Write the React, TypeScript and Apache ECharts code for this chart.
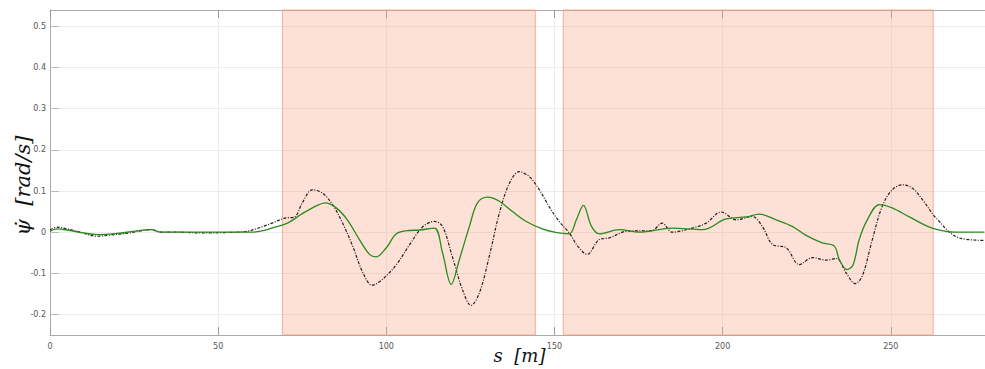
import React, { useEffect, useRef } from "react";
import * as echarts from "echarts";

// Yaw-rate along the path: reference (dash-dot) and measured (green)
const referenceYawRate: [number, number][] = [
  [0, 0.006], [2.2, 0.012], [5, 0.008], [9, 0.0], [13.8, -0.01], [18, -0.007],
  [23.6, -0.002], [27, 0.003], [30, 0.006], [33, 0.0], [38, 0.0], [45, -0.002],
  [52, -0.001], [58.4, 0.002], [62, 0.01], [66, 0.022], [69.7, 0.034], [72.7, 0.037],
  [75, 0.071], [78, 0.103], [81, 0.095], [84, 0.067], [87, 0.022], [90, -0.034],
  [93, -0.098], [95.8, -0.129], [98.8, -0.115], [103, -0.079], [106.8, -0.032],
  [110.7, 0.012], [114.3, 0.026], [116.7, 0.014], [119.6, -0.059], [122.6, -0.139],
  [125.2, -0.178], [127.7, -0.147], [130.6, -0.059], [133.6, 0.046], [136.6, 0.119],
  [139.5, 0.147], [142.5, 0.135], [145.5, 0.103], [148.4, 0.062], [151.4, 0.026],
  [154.4, -0.002], [157, -0.035], [159.7, -0.054], [163.3, -0.018], [166.3, -0.014],
  [171.3, 0.002], [179, 0.004], [182, 0.022], [185, 0.0], [191, 0.01], [195.1, 0.022],
  [199.6, 0.049], [204, 0.03], [208.8, 0.038], [211.8, 0.014], [214.8, -0.03],
  [218.9, -0.038], [222.8, -0.079], [226.7, -0.062], [230.8, -0.068], [233.8, -0.064],
  [236.7, -0.099], [239.4, -0.125], [241.5, -0.107], [244.5, -0.018], [247.4, 0.062],
  [250.4, 0.103], [253.4, 0.115], [256.4, 0.107], [259.4, 0.079], [263.5, 0.034],
  [270.3, -0.014], [277.8, -0.02],
];

const measuredYawRate: [number, number][] = [
  [0, 0.002], [2, 0.008], [6, 0.004], [10, -0.002], [14, -0.006], [20, -0.003],
  [25, 0.002], [30, 0.006], [33, 0.0], [40, 0.0], [50, 0.0], [60, 0.0], [63, 0.003],
  [66, 0.01], [70.6, 0.022], [75, 0.045], [79.2, 0.064], [81.8, 0.071], [85.1, 0.059],
  [88.4, 0.03], [92, -0.018], [95, -0.054], [97, -0.06], [100, -0.038], [103, -0.004],
  [106.8, 0.004], [109.8, 0.005], [114.3, 0.01], [116.7, -0.05], [119.3, -0.127],
  [121.7, -0.067], [124.7, 0.014], [127.1, 0.071], [130.1, 0.085], [133.6, 0.075],
  [137.5, 0.05], [141.6, 0.026], [146.4, 0.008], [150, 0.0], [154.4, -0.004],
  [156.5, 0.03], [158.6, 0.065], [161, 0.014], [163.3, -0.004], [169.3, 0.006],
  [175.2, 0.0], [185, 0.01], [194, 0.006], [201, 0.032], [207, 0.037], [210.9, 0.044],
  [215.9, 0.03], [220.7, 0.014], [224.8, -0.008], [229.6, -0.026], [233.2, -0.034],
  [234.7, -0.067], [237, -0.091], [238.8, -0.079], [240.6, -0.018], [243, 0.03],
  [246.6, 0.067], [250.4, 0.059], [255.5, 0.037], [262.3, 0.01], [269.4, 0.0],
  [277.8, 0.0],
];

// Shaded path segments [start, end] in metres
const shadedSegments: [number, number][] = [
  [69.1, 144.3],
  [152.6, 262.6],
];

const yTickValues = [-0.2, -0.1, 0, 0.1, 0.2, 0.3, 0.4, 0.5];

export default function App() {
  const ref = useRef<HTMLDivElement>(null);

  useEffect(() => {
    if (!ref.current) return;
    const chart = echarts.init(ref.current, null, { renderer: "svg" });
    const tickLabel = { color: "#555", fontSize: 8, fontFamily: "DejaVu Sans" };
    const axisLine = { show: true, onZero: false, lineStyle: { color: "#aaa", width: 1 } };
    const splitLine = { show: true, lineStyle: { color: "#ececec", width: 1 } };

    chart.setOption({
      animation: false,
      backgroundColor: "#fff",
      grid: { left: 50, right: 0, top: 10, bottom: 34, outerBoundsMode: "none", containLabel: false },
      xAxis: [
        {
          type: "value",
          min: 0,
          max: 278,
          interval: 50,
          position: "bottom",
          axisLine,
          axisTick: { show: true, inside: true, length: 8, lineStyle: { color: "#999" } },
          axisLabel: { ...tickLabel, margin: 7, showMaxLabel: false },
          splitLine,
          name: "s  [m]",
          nameLocation: "middle",
          nameMoveOverlap: false,
          nameGap: 11,
          nameTextStyle: {
            fontFamily: "DejaVu Serif",
            fontStyle: "italic",
            fontSize: 18,
            color: "#111",
            padding: [0, 0, 0, 4],
          },
        },
        {
          type: "value",
          min: 0,
          max: 278,
          interval: 50,
          position: "top",
          axisLine,
          axisTick: { show: true, inside: true, length: 8, lineStyle: { color: "#999" } },
          axisLabel: { show: false },
          splitLine: { show: false },
        },
      ],
      yAxis: {
        type: "value",
        min: -0.25,
        max: 0.54,
        axisLine,
        axisTick: {
          show: true,
          inside: true,
          length: 9,
          customValues: yTickValues,
          lineStyle: { color: "#bbb" },
        },
        axisLabel: {
          ...tickLabel,
          margin: 4,
          customValues: yTickValues,
          formatter: (v: number) => String(Math.round(v * 10) / 10),
        },
        splitLine,
        name: "ψ̇  [rad/s]",
        nameLocation: "middle",
        nameMoveOverlap: false,
        nameRotate: 90,
        nameGap: 17,
        nameTextStyle: {
          fontFamily: "DejaVu Serif",
          fontStyle: "italic",
          fontSize: 21,
          color: "#111",
          padding: [0, 26, 0, 0],
        },
      },
      series: [
        {
          type: "line",
          name: "segments",
          data: [],
          z: 1,
          silent: true,
          markArea: {
            silent: true,
            itemStyle: {
              color: "rgba(248,168,138,0.34)",
              borderColor: "rgba(244,150,118,0.75)",
              borderWidth: 1,
            },
            data: shadedSegments.map(([a, b]) => [{ xAxis: a }, { xAxis: b }]),
          },
        },
        {
          type: "line",
          name: "reference",
          data: referenceYawRate,
          showSymbol: false,
          smooth: 0.35,
          z: 3,
          lineStyle: { color: "#2a1a16", width: 1.2, type: [3, 1.5, 1, 1.5] },
        },
        {
          type: "line",
          name: "measured",
          data: measuredYawRate,
          showSymbol: false,
          smooth: 0.35,
          z: 4,
          lineStyle: { color: "#2a8a1c", width: 1.3 },
        },
      ],
    });
    return () => chart.dispose();
  }, []);

  return (
    <div
      ref={ref}
      style={{ position: "fixed", left: 0, top: 0, width: 985, height: 369 }}
    />
  );
}
